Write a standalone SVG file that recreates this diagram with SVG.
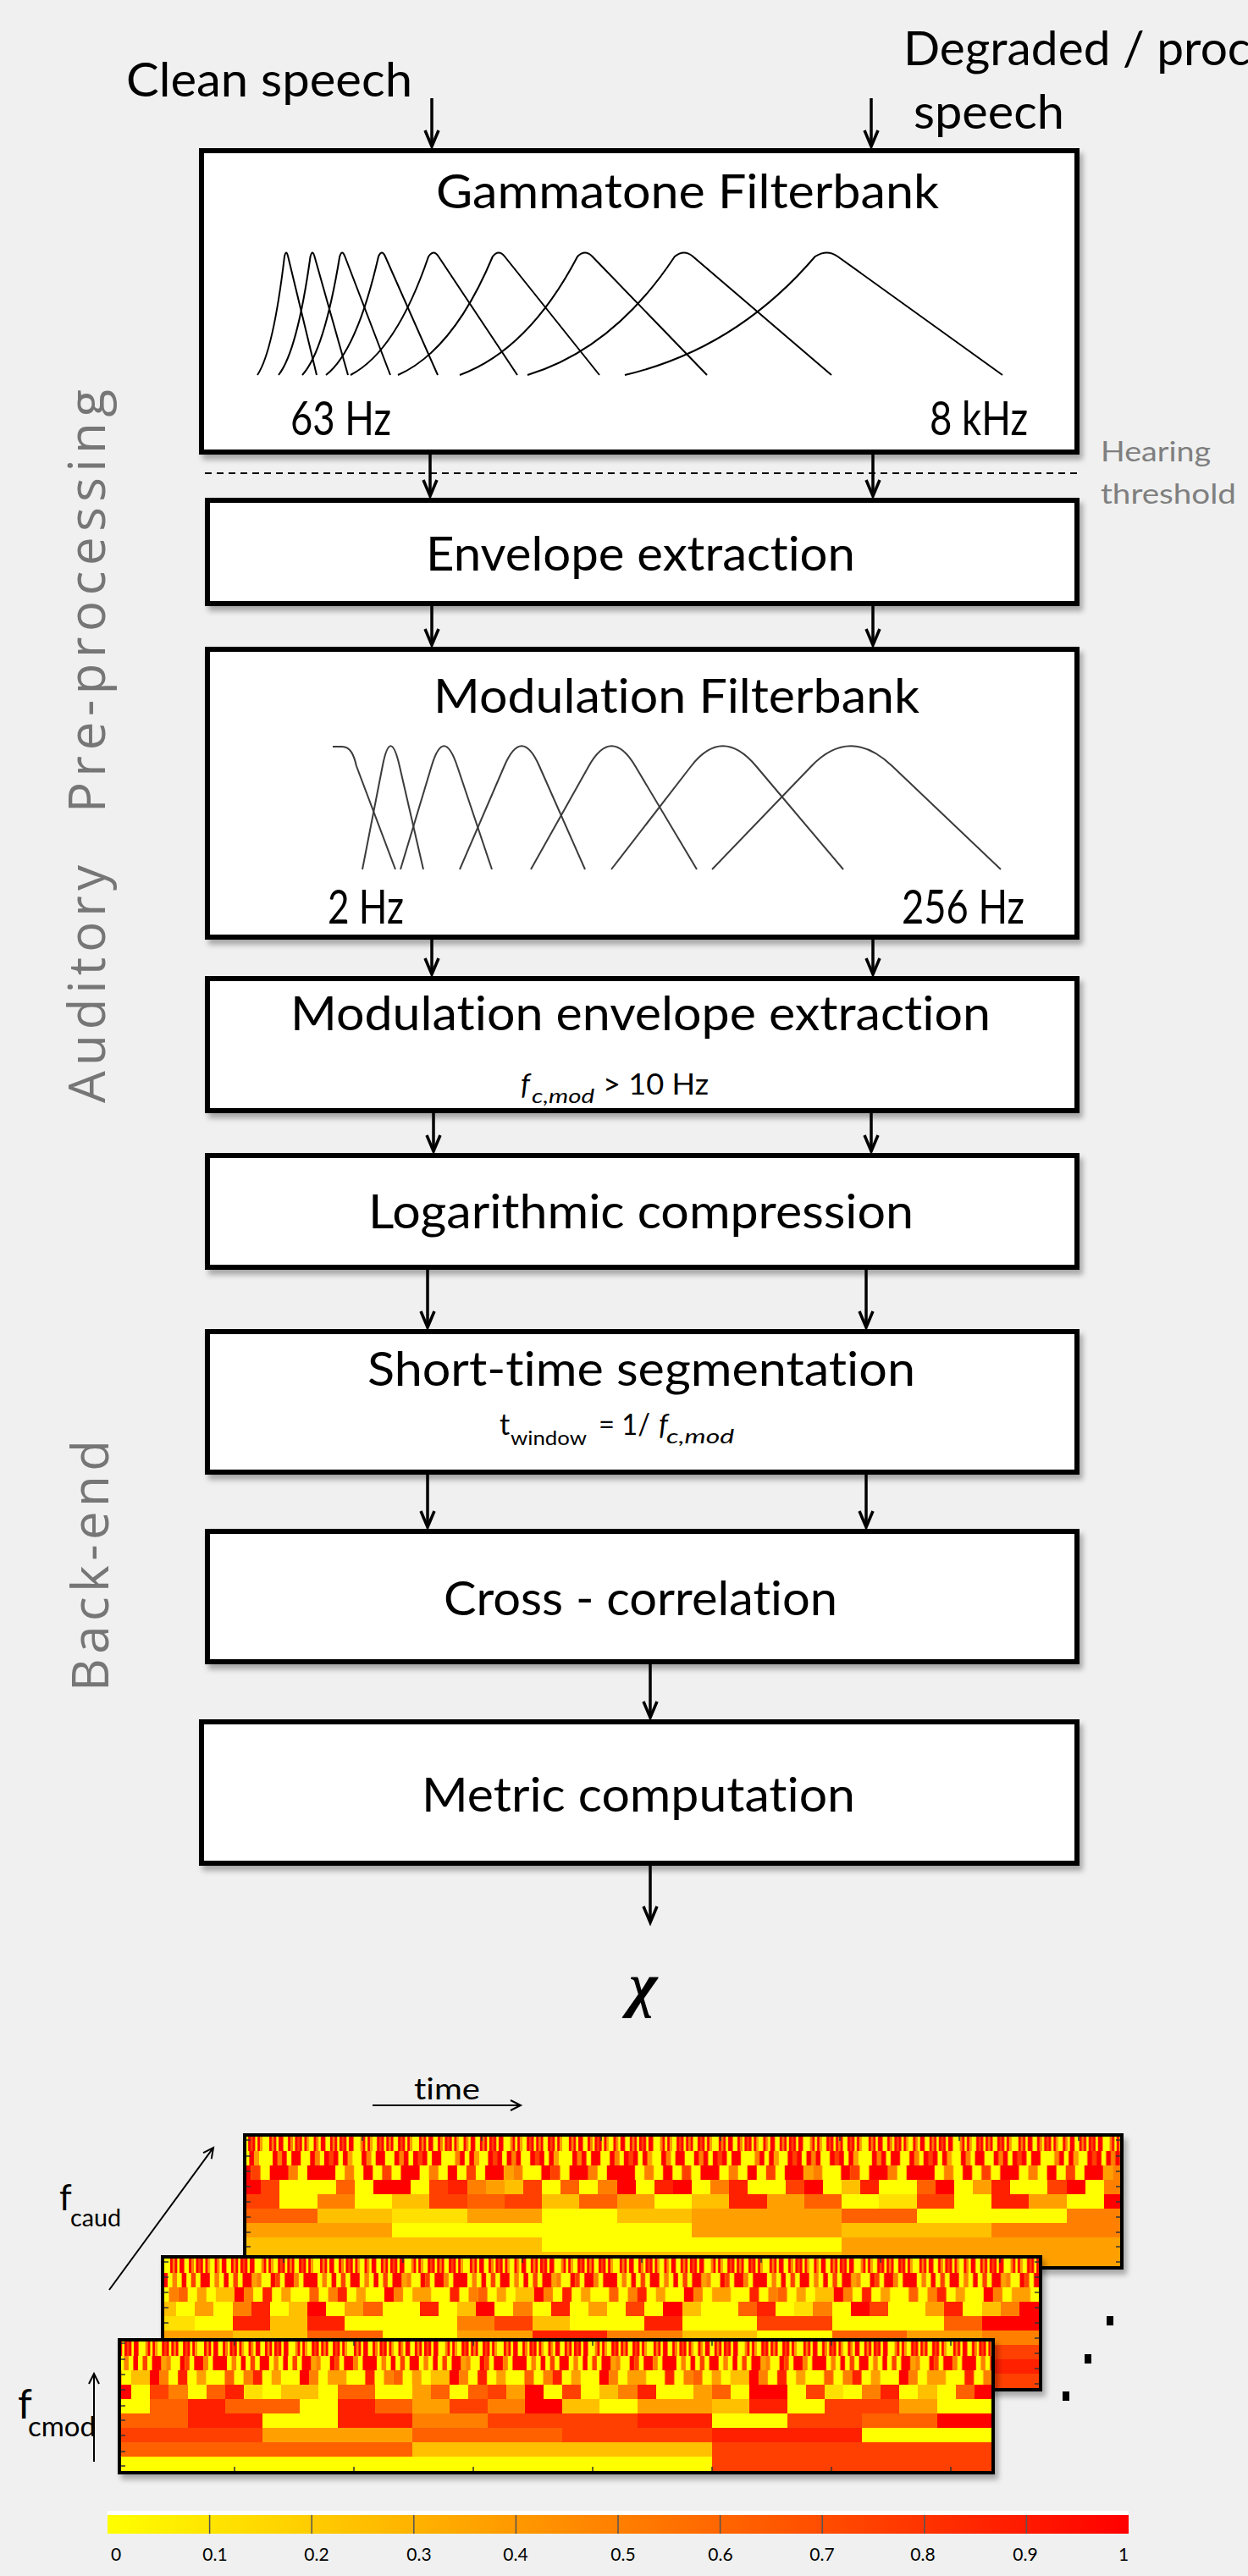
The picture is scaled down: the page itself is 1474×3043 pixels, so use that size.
<svg xmlns="http://www.w3.org/2000/svg" xmlns:xlink="http://www.w3.org/1999/xlink" width="1474" height="3043" viewBox="0 0 1474 3043">
<style>
.bg{fill:#eff0ef}
.bx{fill:#fff;stroke:#000;stroke-width:6}
.t{font-family:Lato,"Open Sans",sans-serif;font-size:56px;fill:#000;font-variant-ligatures:none}
.s{font-size:34px}
.u{font-size:24px}
.it{font-style:italic}
.side{font-family:"Open Sans",sans-serif;font-size:60px;fill:#767676}
.note{font-family:Lato,"Open Sans",sans-serif;font-size:33px;fill:#7f7f7f}
.ar{fill:none;stroke:#000;stroke-width:3.5;marker-end:url(#ah)}
.ar2{fill:none;stroke:#000;stroke-width:2;marker-end:url(#ah2)}
.gc{fill:none;stroke:#000;stroke-width:2}
.mc{fill:none;stroke:#3c3c3c;stroke-width:2}
.a{fill:#ff0}.b{fill:#ffe000}.c{fill:#ffc000}.d{fill:#ffa000}.e{fill:#ff8000}.f{fill:#ff6000}.g{fill:#ff4000}.h{fill:#ff2000}.i{fill:#f00}
.hb{fill:none;stroke:#000;stroke-width:4}
.tk{stroke:#333;stroke-width:1.5}
.cl{font-family:Lato,"Open Sans",sans-serif;font-size:21px;fill:#000;text-anchor:middle}
</style>
<defs>
<filter id="sh" x="-5%" y="-10%" width="115%" height="135%">
<feDropShadow dx="4" dy="6" stdDeviation="3" flood-color="#000" flood-opacity="0.3"/>
</filter>
<marker id="ah" markerUnits="userSpaceOnUse" markerWidth="24" markerHeight="20" refX="20" refY="9" orient="auto" overflow="visible">
<path d="M1,1 L20,9 L1,17" fill="none" stroke="#000" stroke-width="3.5"/>
</marker>
<marker id="ah2" markerUnits="userSpaceOnUse" markerWidth="16" markerHeight="16" refX="13" refY="7" orient="auto" overflow="visible">
<path d="M1,1 L13,7 L1,13" fill="none" stroke="#000" stroke-width="2"/>
</marker>
<linearGradient id="cb" x1="0" x2="1" y1="0" y2="0">
<stop offset="0" stop-color="#ff0"/><stop offset="1" stop-color="#f00"/>
</linearGradient>
<!-- fine-scale stripe tiles for the fast modulation channels -->
<pattern id="p1" patternUnits="userSpaceOnUse" width="64" height="1">
<rect width="64" height="1" class="i"/>
<rect x="1" width="1" height="1" class="a"/><rect x="4" width="2" height="1" class="a"/><rect x="8" width="1" height="1" class="a"/><rect x="11" width="2" height="1" class="a"/><rect x="16" width="1" height="1" class="a"/><rect x="20" width="1" height="1" class="a"/><rect x="23" width="3" height="1" class="a"/><rect x="28" width="1" height="1" class="a"/><rect x="31" width="2" height="1" class="a"/><rect x="36" width="1" height="1" class="a"/><rect x="40" width="2" height="1" class="a"/><rect x="45" width="1" height="1" class="a"/><rect x="48" width="3" height="1" class="a"/><rect x="54" width="1" height="1" class="a"/><rect x="57" width="2" height="1" class="a"/><rect x="61" width="1" height="1" class="a"/>
<rect x="7" width="1" height="1" class="e"/><rect x="14" width="1" height="1" class="e"/><rect x="26" width="1" height="1" class="e"/><rect x="38" width="1" height="1" class="e"/><rect x="52" width="1" height="1" class="e"/><rect x="60" width="1" height="1" class="e"/>
<rect x="18" width="1" height="1" class="g"/><rect x="34" width="1" height="1" class="g"/><rect x="43" width="1" height="1" class="g"/><rect x="63" width="1" height="1" class="g"/>
<rect x="3" width="1" height="1" class="d"/><rect x="30" width="1" height="1" class="d"/><rect x="47" width="1" height="1" class="d"/>
</pattern>
<pattern id="p2" patternUnits="userSpaceOnUse" width="32" height="1">
<rect width="32" height="1" class="a"/>
<rect x="0" width="2" height="1" class="i"/><rect x="5" width="1" height="1" class="i"/><rect x="9" width="2" height="1" class="i"/><rect x="14" width="1" height="1" class="i"/><rect x="18" width="2" height="1" class="i"/><rect x="24" width="1" height="1" class="i"/><rect x="27" width="2" height="1" class="i"/><rect x="31" width="1" height="1" class="i"/>
<rect x="3" width="1" height="1" class="e"/><rect x="12" width="1" height="1" class="e"/><rect x="21" width="1" height="1" class="e"/><rect x="29" width="1" height="1" class="e"/>
<rect x="7" width="1" height="1" class="g"/><rect x="16" width="1" height="1" class="g"/><rect x="25" width="1" height="1" class="g"/>
<rect x="20" width="1" height="1" class="d"/>
</pattern>
<pattern id="p3" patternUnits="userSpaceOnUse" width="32" height="1">
<rect width="32" height="1" class="a"/>
<rect x="1" width="1" height="1" class="e"/><rect x="9" width="1" height="1" class="e"/><rect x="17" width="1" height="1" class="e"/><rect x="26" width="1" height="1" class="e"/>
<rect x="3" width="2" height="1" class="d"/><rect x="12" width="1" height="1" class="d"/><rect x="21" width="1" height="1" class="d"/><rect x="29" width="1" height="1" class="d"/>
<rect x="14" width="2" height="1" class="c"/>
<rect x="7" width="1" height="1" class="h"/><rect x="19" width="1" height="1" class="h"/><rect x="27" width="1" height="1" class="h"/>
<rect x="10" width="1" height="1" class="f"/><rect x="24" width="1" height="1" class="f"/>
<rect x="0" width="1" height="1" class="i"/><rect x="16" width="1" height="1" class="i"/>
</pattern>
<pattern id="h1r1" xlink:href="#p1" patternTransform="scale(2.765 1000)"/>
<pattern id="h1r2" xlink:href="#p1" patternTransform="translate(40 0) scale(5.53 1000)"/>
<pattern id="h1r3" xlink:href="#p2" patternTransform="translate(20 0) scale(11.06 1000)"/>
<pattern id="h2r1" xlink:href="#p1" patternTransform="translate(60 0) scale(2.765 1000)"/>
<pattern id="h2r2" xlink:href="#p2" patternTransform="translate(10 0) scale(5.53 1000)"/>
<pattern id="h2r3" xlink:href="#p3" patternTransform="translate(100 0) scale(11.06 1000)"/>
<pattern id="h3r1" xlink:href="#p1" patternTransform="translate(100 0) scale(2.765 1000)"/>
<pattern id="h3r2" xlink:href="#p2" patternTransform="translate(80 0) scale(5.53 1000)"/>
<pattern id="h3r3" xlink:href="#p3" patternTransform="scale(11.06 1000)"/>
<clipPath id="c1"><rect x="291" y="2524" width="1032" height="153"/></clipPath>
<clipPath id="c2"><rect x="194" y="2668" width="1033" height="153"/></clipPath>
<clipPath id="c3"><rect x="143" y="2766" width="1028" height="153"/></clipPath>
</defs>

<rect class="bg" width="1474" height="3043"/>

<!-- stage labels along the left margin -->
<g id="stage-labels">
<text class="side" transform="translate(124 1303) rotate(-90)" textLength="281" lengthAdjust="spacing">Auditory</text>
<text class="side" transform="translate(124 960) rotate(-90)" textLength="500" lengthAdjust="spacing">Pre-processing</text>
<text class="side" transform="translate(128 1998) rotate(-90)" textLength="297" lengthAdjust="spacing">Back-end</text>
</g>

<!-- inputs -->
<g id="input-clean">
<text class="t" x="149" y="114" textLength="338" lengthAdjust="spacingAndGlyphs">Clean speech</text>
</g>
<g id="input-degraded">
<text class="t" x="1067" y="77" textLength="410" lengthAdjust="spacingAndGlyphs">Degraded / proc</text>
<text class="t" x="1079" y="152" textLength="178" lengthAdjust="spacingAndGlyphs">speech</text>
</g>

<!-- gammatone filterbank -->
<g id="gammatone">
<rect class="bx" x="238" y="178" width="1034" height="356" filter="url(#sh)"/>
<text class="t" x="515" y="246" textLength="594" lengthAdjust="spacingAndGlyphs">Gammatone Filterbank</text>
<path class="gc" d="M304,443 Q322.7,415 336,303 Q338,294 340.2,303 L374,443"/>
<path class="gc" d="M329,443 Q351,415 366.6,303 Q369,294 371.5,303 L411,443"/>
<path class="gc" d="M357,443 Q382.9,415 401.2,303 Q404,294 407.4,303 L461,443"/>
<path class="gc" d="M385,443 Q421.3,415 447,303 Q451,294 455,303 L517,443"/>
<path class="gc" d="M414,443 Q467.9,415 506.1,303 Q512,294 517.9,303 L611,443"/>
<path class="gc" d="M470,443 Q535.5,414 581.9,303 Q589,294 596.1,303 L708,443"/>
<path class="gc" d="M543,443 Q624.4,413 682.1,303 Q691,294 699.6,303 L835,443"/>
<path class="gc" d="M623,443 Q724.8,412 796.9,303 Q808,294 818.4,303 L982,443"/>
<path class="gc" d="M738,443 Q869.5,412 962.7,303 Q977,294 989.4,303 L1184,443"/>
<text class="t" x="343" y="514" textLength="119" lengthAdjust="spacingAndGlyphs">63 Hz</text>
<text class="t" x="1098" y="514" textLength="116" lengthAdjust="spacingAndGlyphs">8 kHz</text>
</g>

<!-- hearing threshold -->
<g id="hearing-threshold">
<path d="M242,559 H1273" stroke="#000" stroke-width="2" stroke-dasharray="8 6"/>
<text class="note" x="1300" y="545" textLength="130" lengthAdjust="spacingAndGlyphs">Hearing</text>
<text class="note" x="1300" y="595" textLength="160" lengthAdjust="spacingAndGlyphs">threshold</text>
</g>

<g id="envelope">
<rect class="bx" x="245" y="591" width="1027" height="122" filter="url(#sh)"/>
<text class="t" x="503" y="674" textLength="507" lengthAdjust="spacingAndGlyphs">Envelope extraction</text>
</g>

<!-- modulation filterbank -->
<g id="mod-filterbank">
<rect class="bx" x="245" y="767" width="1027" height="340" filter="url(#sh)"/>
<text class="t" x="512" y="842" textLength="574" lengthAdjust="spacingAndGlyphs">Modulation Filterbank</text>
<path class="mc" d="M393,882 L404,882 C414,882 418,892 421,905 L467,1027"/>
<path class="mc" d="M428,1027 L451.8,905 Q461,857.6 471.9,905 L500,1027"/>
<path class="mc" d="M473,1027 L509.7,905 Q524,857.6 540,905 L581,1027"/>
<path class="mc" d="M543,1027 L595.6,905 Q616,857.6 637,905 L691,1027"/>
<path class="mc" d="M627,1027 L695.4,905 Q722,857.6 750.3,905 L823,1027"/>
<path class="mc" d="M722,1027 L816.3,905 Q853,857.6 893,905 L996,1027"/>
<path class="mc" d="M841,1027 L958.4,905 Q1004,857.6 1053.8,905 L1182,1027"/>
<text class="t" x="387" y="1091" textLength="90" lengthAdjust="spacingAndGlyphs">2 Hz</text>
<text class="t" x="1065" y="1091" textLength="145" lengthAdjust="spacingAndGlyphs">256 Hz</text>
</g>

<g id="mod-envelope">
<rect class="bx" x="245" y="1156" width="1027" height="156" filter="url(#sh)"/>
<text class="t" x="343" y="1217" textLength="827" lengthAdjust="spacingAndGlyphs">Modulation envelope extraction</text>
<text class="t s it" x="615" y="1293">f</text>
<text class="t u it" x="628" y="1303" textLength="74" lengthAdjust="spacingAndGlyphs">c,mod</text>
<text class="t s" x="712" y="1293" textLength="125" lengthAdjust="spacingAndGlyphs">&gt; 10 Hz</text>
</g>

<g id="log-compression">
<rect class="bx" x="245" y="1365" width="1027" height="132" filter="url(#sh)"/>
<text class="t" x="435" y="1451" textLength="644" lengthAdjust="spacingAndGlyphs">Logarithmic compression</text>
</g>

<g id="segmentation">
<rect class="bx" x="245" y="1573" width="1027" height="166" filter="url(#sh)"/>
<text class="t" x="434" y="1637" textLength="647" lengthAdjust="spacingAndGlyphs">Short-time segmentation</text>
<text class="t s" x="590" y="1695">t</text>
<text class="t u" x="603" y="1707" textLength="90" lengthAdjust="spacingAndGlyphs">window</text>
<text class="t s" x="707" y="1695" textLength="61" lengthAdjust="spacingAndGlyphs">= 1/</text>
<text class="t s it" x="778" y="1695">f</text>
<text class="t u it" x="787" y="1705" textLength="80" lengthAdjust="spacingAndGlyphs">c,mod</text>
</g>

<g id="cross-correlation">
<rect class="bx" x="245" y="1809" width="1027" height="154" filter="url(#sh)"/>
<text class="t" x="524" y="1908" textLength="465" lengthAdjust="spacingAndGlyphs">Cross - correlation</text>
</g>

<g id="metric">
<rect class="bx" x="238" y="2034" width="1034" height="167" filter="url(#sh)"/>
<text class="t" x="498" y="2140" textLength="512" lengthAdjust="spacingAndGlyphs">Metric computation</text>
</g>

<g id="output-chi">
<text x="743" y="2369" font-family="'Liberation Serif',serif" font-size="72" font-weight="bold" font-style="italic">χ</text>
</g>

<!-- signal flow -->
<g id="connectors">
<path class="ar" d="M510,116 V173"/>
<path class="ar" d="M1029,116 V173"/>
<path class="ar" d="M508,537 V586"/>
<path class="ar" d="M1031,537 V586"/>
<path class="ar" d="M510,716 V762"/>
<path class="ar" d="M1031,716 V762"/>
<path class="ar" d="M510,1110 V1151"/>
<path class="ar" d="M1031,1110 V1151"/>
<path class="ar" d="M512,1315 V1360"/>
<path class="ar" d="M1029,1315 V1360"/>
<path class="ar" d="M505,1500 V1568"/>
<path class="ar" d="M1023,1500 V1568"/>
<path class="ar" d="M505,1742 V1804"/>
<path class="ar" d="M1023,1742 V1804"/>
<path class="ar" d="M768,1966 V2029"/>
<path class="ar" d="M768,2204 V2271"/>
</g>

<!-- internal representation: stacked modulation x time maps -->
<g id="representation">
<text class="t" x="489" y="2480" style="font-size:34px" textLength="78" lengthAdjust="spacingAndGlyphs">time</text>
<path class="ar2" d="M440,2487 H615"/>
<path class="ar2" d="M129,2705 L252,2537"/>
<path class="ar2" d="M111,2908 V2804"/>
<text class="t" x="70" y="2611" style="font-size:42px">f</text>
<text class="t" x="83" y="2630" style="font-size:28px" textLength="60" lengthAdjust="spacingAndGlyphs">caud</text>
<text class="t" x="21" y="2857" style="font-size:48px">f</text>
<text class="t" x="33" y="2878" style="font-size:32px" textLength="80" lengthAdjust="spacingAndGlyphs">cmod</text>

<!-- back map -->
<g id="map-back">
<rect x="287" y="2520" width="1040" height="161" fill="#000" filter="url(#sh)"/>
<g clip-path="url(#c1)" shape-rendering="crispEdges">
<rect x="291" y="2524" width="1032" height="17" fill="url(#h1r1)"/>
<rect x="291" y="2541" width="1032" height="17" fill="url(#h1r2)"/>
<rect x="291" y="2558" width="1032" height="17" fill="url(#h1r3)"/>
<g transform="translate(286 2575) scale(22.125 17)">
<rect width="47" height="1" class="a"/>
<rect x="0" width="1" height="1" class="i"/><rect x="1" width="1" height="1" class="g"/><rect x="5" width="1" height="1" class="f"/><rect x="7" width="2" height="1" class="i"/><rect x="10" width="1" height="1" class="g"/><rect x="11" width="1" height="1" class="h"/><rect x="12" width="1" height="1" class="e"/><rect x="13" width="1" height="1" class="d"/><rect x="14" width="1" height="1" class="c"/><rect x="15" width="1" height="1" class="g"/><rect x="17" width="1" height="1" class="f"/><rect x="19" width="1" height="1" class="e"/><rect x="20" width="1" height="1" class="i"/><rect x="22" width="1" height="1" class="h"/><rect x="23" width="1" height="1" class="i"/><rect x="25" width="1" height="1" class="e"/><rect x="26" width="1" height="1" class="h"/><rect x="29" width="1" height="1" class="g"/><rect x="30" width="1" height="1" class="i"/><rect x="32" width="1" height="1" class="c"/><rect x="33" width="1" height="1" class="h"/><rect x="36" width="1" height="1" class="f"/><rect x="37" width="1" height="1" class="i"/><rect x="39" width="1" height="1" class="d"/><rect x="40" width="1" height="1" class="h"/><rect x="43" width="1" height="1" class="g"/><rect x="44" width="1" height="1" class="i"/><rect x="46" width="1" height="1" class="e"/>
</g>
<g transform="translate(286 2592) scale(44.25 17)">
<rect width="24" height="1" class="a"/>
<rect x="0" width="1" height="1" class="g"/><rect x="2" width="1" height="1" class="e"/><rect x="4" width="1" height="1" class="c"/><rect x="5" width="1" height="1" class="g"/><rect x="6" width="1" height="1" class="f"/><rect x="7" width="1" height="1" class="g"/><rect x="8" width="1" height="1" class="c"/><rect x="9" width="1" height="1" class="f"/><rect x="10" width="1" height="1" class="d"/><rect x="12" width="1" height="1" class="c"/><rect x="13" width="1" height="1" class="h"/><rect x="14" width="1" height="1" class="d"/><rect x="15" width="1" height="1" class="f"/><rect x="17" width="1" height="1" class="b"/><rect x="18" width="1" height="1" class="g"/><rect x="20" width="1" height="1" class="h"/><rect x="21" width="1" height="1" class="d"/><rect x="23" width="1" height="1" class="i"/>
</g>
<g transform="translate(286 2609) scale(88.5 17)">
<rect width="12" height="1" class="a"/>
<rect x="0" width="1" height="1" class="f"/><rect x="1" width="1" height="1" class="c"/><rect x="2" width="1" height="1" class="b"/><rect x="3" width="1" height="1" class="d"/><rect x="5" width="1" height="1" class="c"/><rect x="6" width="2" height="1" class="d"/><rect x="8" width="1" height="1" class="f"/><rect x="11" width="1" height="1" class="e"/>
</g>
<g transform="translate(286 2626) scale(177 17)">
<rect x="0" width="1" height="1" class="d"/><rect x="1" width="2" height="1" class="a"/><rect x="3" width="1" height="1" class="d"/><rect x="4" width="1" height="1" class="c"/><rect x="5" width="1" height="1" class="e"/>
</g>
<g transform="translate(286 2643) scale(354 17)">
<rect x="0" width="1" height="1" class="c"/><rect x="1" width="1" height="1" class="a"/><rect x="2" width="1" height="1" class="d"/>
</g>
<g transform="translate(286 2660) scale(708 18)">
<rect x="0" width="1" height="1" class="c"/><rect x="1" width="1" height="1" class="d"/>
</g>
</g>
<rect class="hb" x="289" y="2522" width="1036" height="157"/>
<path class="tk" d="M291,2528h5M291,2547h5M291,2565h5M291,2583h5M291,2601h5M291,2619h5M291,2637h5M291,2654h5M1323,2528h-5M1323,2547h-5M1323,2565h-5M1323,2583h-5M1323,2601h-5M1323,2619h-5M1323,2637h-5M1323,2654h-5M1323,2672h-5M428,2524v5M569,2524v5M710,2524v5M851,2524v5M992,2524v5M1133,2524v5M1274,2524v5"/>
</g>

<!-- middle map -->
<g id="map-middle">
<rect x="190" y="2664" width="1041" height="161" fill="#000" filter="url(#sh)"/>
<g clip-path="url(#c2)" shape-rendering="crispEdges">
<rect x="194" y="2668" width="1033" height="17" fill="url(#h2r1)"/>
<rect x="194" y="2685" width="1033" height="17" fill="url(#h2r2)"/>
<rect x="194" y="2702" width="1033" height="17" fill="url(#h2r3)"/>
<g transform="translate(186 2719) scale(22.125 17)">
<rect width="48" height="1" class="a"/>
<rect x="0" width="1" height="1" class="c"/><rect x="2" width="1" height="1" class="d"/><rect x="4" width="1" height="1" class="e"/><rect x="5" width="1" height="1" class="h"/><rect x="7" width="1" height="1" class="c"/><rect x="8" width="1" height="1" class="i"/><rect x="10" width="1" height="1" class="d"/><rect x="11" width="1" height="1" class="f"/><rect x="14" width="1" height="1" class="h"/><rect x="16" width="1" height="1" class="c"/><rect x="17" width="1" height="1" class="i"/><rect x="19" width="1" height="1" class="e"/><rect x="21" width="1" height="1" class="h"/><rect x="23" width="1" height="1" class="d"/><rect x="25" width="1" height="1" class="g"/><rect x="27" width="1" height="1" class="i"/><rect x="28" width="1" height="1" class="c"/><rect x="31" width="1" height="1" class="f"/><rect x="32" width="1" height="1" class="h"/><rect x="34" width="1" height="1" class="b"/><rect x="35" width="1" height="1" class="e"/><rect x="37" width="1" height="1" class="i"/><rect x="38" width="1" height="1" class="g"/><rect x="41" width="1" height="1" class="d"/><rect x="42" width="1" height="1" class="h"/><rect x="44" width="1" height="1" class="c"/><rect x="45" width="1" height="1" class="e"/><rect x="46" width="2" height="1" class="i"/>
</g>
<g transform="translate(186 2736) scale(44.25 17)">
<rect width="24" height="1" class="a"/>
<rect x="0" width="1" height="1" class="b"/><rect x="2" width="1" height="1" class="h"/><rect x="3" width="1" height="1" class="c"/><rect x="4" width="1" height="1" class="h"/><rect x="8" width="1" height="1" class="e"/><rect x="9" width="1" height="1" class="g"/><rect x="10" width="1" height="1" class="c"/><rect x="13" width="1" height="1" class="h"/><rect x="16" width="2" height="1" class="g"/><rect x="21" width="1" height="1" class="f"/><rect x="22" width="2" height="1" class="i"/>
</g>
<g transform="translate(186 2753) scale(88.5 17)">
<rect width="12" height="1" class="a"/>
<rect x="0" width="1" height="1" class="d"/><rect x="1" width="1" height="1" class="c"/><rect x="2" width="1" height="1" class="f"/><rect x="4" width="1" height="1" class="d"/><rect x="5" width="1" height="1" class="h"/><rect x="6" width="1" height="1" class="e"/><rect x="7" width="1" height="1" class="c"/><rect x="9" width="1" height="1" class="f"/><rect x="10" width="1" height="1" class="d"/><rect x="11" width="1" height="1" class="e"/>
</g>
<g transform="translate(186 2770) scale(177 17)">
<rect x="0" width="1" height="1" class="f"/><rect x="1" width="1" height="1" class="d"/><rect x="2" width="1" height="1" class="a"/><rect x="3" width="1" height="1" class="g"/><rect x="4" width="1" height="1" class="e"/><rect x="5" width="1" height="1" class="g"/>
</g>
<g transform="translate(186 2787) scale(354 17)">
<rect x="0" width="1" height="1" class="e"/><rect x="1" width="1" height="1" class="c"/><rect x="2" width="1" height="1" class="h"/>
</g>
<g transform="translate(186 2804) scale(708 18)">
<rect x="0" width="1" height="1" class="d"/><rect x="1" width="1" height="1" class="g"/>
</g>
</g>
<rect class="hb" x="192" y="2666" width="1037" height="157"/>
<path class="tk" d="M194,2672h5M194,2690h5M194,2708h5M194,2726h5M194,2744h5M1227,2672h-5M1227,2690h-5M1227,2708h-5M1227,2726h-5M1227,2744h-5M1227,2762h-5M1227,2780h-5M1227,2798h-5M1227,2816h-5M335,2668v5M476,2668v5M617,2668v5M758,2668v5M899,2668v5M1040,2668v5M1181,2668v5"/>
</g>

<!-- front map -->
<g id="map-front">
<rect x="139" y="2762" width="1036" height="161" fill="#000" filter="url(#sh)"/>
<g clip-path="url(#c3)" shape-rendering="crispEdges">
<rect x="143" y="2766" width="1028" height="17" fill="url(#h3r1)"/>
<rect x="143" y="2783" width="1028" height="17" fill="url(#h3r2)"/>
<rect x="143" y="2800" width="1028" height="17" fill="url(#h3r3)"/>
<g transform="translate(133 2817) scale(22.125 17)">
<rect width="47" height="1" class="a"/>
<rect x="0" width="1" height="1" class="i"/><rect x="2" width="1" height="1" class="g"/><rect x="3" width="1" height="1" class="e"/><rect x="5" width="1" height="1" class="f"/><rect x="6" width="1" height="1" class="h"/><rect x="7" width="1" height="1" class="b"/><rect x="9" width="2" height="1" class="c"/><rect x="12" width="2" height="1" class="f"/><rect x="16" width="1" height="1" class="d"/><rect x="17" width="1" height="1" class="f"/><rect x="19" width="1" height="1" class="f"/><rect x="20" width="1" height="1" class="g"/><rect x="21" width="1" height="1" class="d"/><rect x="22" width="1" height="1" class="i"/><rect x="24" width="1" height="1" class="g"/><rect x="26" width="1" height="1" class="c"/><rect x="27" width="1" height="1" class="e"/><rect x="28" width="1" height="1" class="h"/><rect x="31" width="1" height="1" class="d"/><rect x="32" width="1" height="1" class="f"/><rect x="34" width="2" height="1" class="i"/><rect x="37" width="1" height="1" class="g"/><rect x="38" width="1" height="1" class="b"/><rect x="40" width="1" height="1" class="e"/><rect x="41" width="1" height="1" class="h"/><rect x="43" width="1" height="1" class="c"/><rect x="45" width="1" height="1" class="f"/><rect x="46" width="1" height="1" class="i"/>
</g>
<g transform="translate(133 2834) scale(44.25 17)">
<rect width="24" height="1" class="a"/>
<rect x="1" width="1" height="1" class="f"/><rect x="2" width="1" height="1" class="h"/><rect x="3" width="2" height="1" class="f"/><rect x="6" width="1" height="1" class="h"/><rect x="7" width="1" height="1" class="f"/><rect x="8" width="1" height="1" class="d"/><rect x="9" width="1" height="1" class="g"/><rect x="10" width="1" height="1" class="e"/><rect x="11" width="1" height="1" class="i"/><rect x="12" width="1" height="1" class="c"/><rect x="14" width="2" height="1" class="d"/><rect x="16" width="1" height="1" class="c"/><rect x="17" width="1" height="1" class="h"/><rect x="19" width="2" height="1" class="g"/><rect x="21" width="1" height="1" class="d"/>
</g>
<g transform="translate(133 2851) scale(88.5 17)">
<rect width="12" height="1" class="a"/>
<rect x="0" width="1" height="1" class="f"/><rect x="1" width="1" height="1" class="h"/><rect x="3" width="1" height="1" class="h"/><rect x="4" width="1" height="1" class="e"/><rect x="5" width="2" height="1" class="g"/><rect x="7" width="1" height="1" class="h"/><rect x="9" width="1" height="1" class="g"/><rect x="10" width="1" height="1" class="f"/><rect x="11" width="1" height="1" class="i"/>
</g>
<g transform="translate(133 2868) scale(177 17)">
<rect x="0" width="1" height="1" class="g"/><rect x="1" width="1" height="1" class="d"/><rect x="2" width="1" height="1" class="f"/><rect x="3" width="1" height="1" class="g"/><rect x="4" width="1" height="1" class="h"/><rect x="5" width="1" height="1" class="a"/>
</g>
<g transform="translate(133 2885) scale(354 17)">
<rect x="0" width="1" height="1" class="f"/><rect x="1" width="1" height="1" class="c"/><rect x="2" width="1" height="1" class="g"/>
</g>
<g transform="translate(133 2902) scale(708 18)">
<rect x="0" width="1" height="1" class="a"/><rect x="1" width="1" height="1" class="g"/>
</g>
</g>
<rect class="hb" x="141" y="2764" width="1032" height="157"/>
<path class="tk" d="M143,2768h5M143,2787h5M143,2805h5M143,2823h5M143,2842h5M143,2859h5M143,2877h5M143,2896h5M143,2913h5M277,2919v-5M418,2919v-5M559,2919v-5M700,2919v-5M841,2919v-5M982,2919v-5M1123,2919v-5M277,2766v5M418,2766v5M559,2766v5M700,2766v5M841,2766v5M982,2766v5M1123,2766v5"/>
</g>

<!-- more channels behind -->
<rect x="1307" y="2736" width="8" height="11" fill="#000"/>
<rect x="1281" y="2781" width="8" height="11" fill="#000"/>
<rect x="1255" y="2825" width="8" height="11" fill="#000"/>
</g>

<!-- colour scale -->
<g id="colorbar">
<rect x="127" y="2966" width="1206" height="5" fill="#fff"/>
<rect x="127" y="2971" width="1206" height="22" fill="url(#cb)"/>
<path d="M247.6,2971v22M368.2,2971v22M488.8,2971v22M609.4,2971v22M730,2971v22M850.6,2971v22M971.2,2971v22M1091.8,2971v22M1212.4,2971v22" stroke="#555" stroke-width="1.5"/>
<text class="cl" x="137" y="3025">0</text>
<text class="cl" x="254" y="3025">0.1</text>
<text class="cl" x="374" y="3025">0.2</text>
<text class="cl" x="495" y="3025">0.3</text>
<text class="cl" x="609" y="3025">0.4</text>
<text class="cl" x="736" y="3025">0.5</text>
<text class="cl" x="851" y="3025">0.6</text>
<text class="cl" x="971" y="3025">0.7</text>
<text class="cl" x="1090" y="3025">0.8</text>
<text class="cl" x="1211" y="3025">0.9</text>
<text class="cl" x="1327" y="3025">1</text>
</g>
</svg>
